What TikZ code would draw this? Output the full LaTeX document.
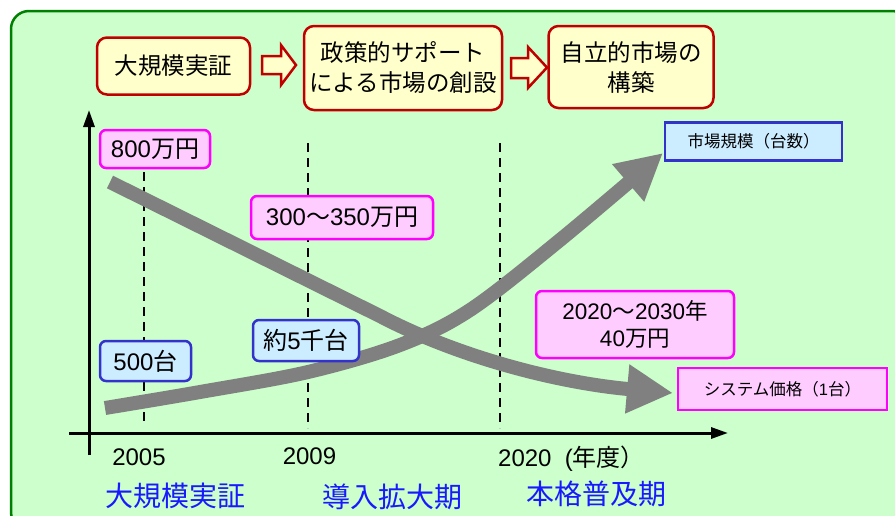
\documentclass[tikz,border=0pt]{standalone}
\usepackage{fontspec}
\setmainfont{Noto Sans CJK JP}
\newfontfamily\lat{Liberation Sans}
\usetikzlibrary{arrows.meta,calc}
\definecolor{panelfill}{HTML}{CCFFCC}
\definecolor{panelline}{HTML}{008000}
\definecolor{topfill}{HTML}{FFFFCC}
\definecolor{topline}{HTML}{C00000}
\definecolor{pinkfill}{HTML}{FFCCFF}
\definecolor{pinkline}{HTML}{FF00FF}
\definecolor{bluefill}{HTML}{CCECFF}
\definecolor{blueline}{HTML}{3333CC}
\definecolor{phaseblue}{HTML}{1919FF}
\definecolor{curvegrey}{HTML}{808080}
\tikzset{
  topbox/.style={draw=topline, fill=topfill, line width=2.5pt, rounded corners=10pt, align=center, font=\fontsize{23.5}{30}\selectfont, inner sep=0pt},
  pinkbox/.style={draw=pinkline, fill=pinkfill, line width=2.5pt, rounded corners=6pt, align=center, font=\fontsize{24}{30}\selectfont, inner sep=0pt},
  bluebox/.style={draw=blueline, fill=bluefill, line width=2.5pt, rounded corners=6pt, align=center, font=\fontsize{24}{30}\selectfont, inner sep=0pt},
  legpink/.style={draw=pinkline, fill=pinkfill, line width=2.5pt, font=\fontsize{16.5}{20}\selectfont, inner sep=0pt},
  legblue/.style={draw=blueline, fill=bluefill, line width=2.5pt, font=\fontsize{16.5}{20}\selectfont, inner sep=0pt},
  blockarrow/.style={draw=topline, fill=topfill, line width=2.5pt, line join=miter},
  axis/.style={line width=3pt, -{Triangle[length=17pt,width=11pt]}},
  guide/.style={line width=2.2pt, dash pattern=on 9pt off 6pt},
  trend/.style={draw=curvegrey, line width=14pt, line cap=butt, -{Triangle[length=46pt,width=46pt]}},
  year/.style={font=\lat\fontsize{24}{26}\selectfont, inner sep=0pt},
  phase/.style={font=\fontsize{28}{30}\selectfont, text=phaseblue, inner sep=0pt}
}
\begin{document}
\begin{tikzpicture}[x=1pt,y=-1pt]
\useasboundingbox (0,0) rectangle (895,515);
\begin{scope}
\clip (0,0) rectangle (895,515);
\draw[draw=panelline, fill=panelfill, line width=2.5pt, rounded corners=18pt] (11,11) rectangle (910,530);
\end{scope}

% top boxes
\node[topbox, minimum width=153pt, minimum height=57pt] (b1) at (173.5,66) {大規模実証};
\node[topbox, minimum width=198pt, minimum height=84pt] (b2) at (403,68) {政策的サポート\\による市場の創設};
\node[topbox, minimum width=165pt, minimum height=82pt] (b3) at (631,67) {自立的市場の\\構築};

% block arrows
\draw[blockarrow] (262,56) -- (281,56) -- (281,45) -- (296,65) -- (281,85) -- (281,74) -- (262,74) -- cycle;
\draw[blockarrow] (511,58) -- (528,58) -- (528,47) -- (547,67.5) -- (528,88) -- (528,78) -- (511,78) -- cycle;

% guides
\coordinate (g1t) at (144,172); \coordinate (g1b) at (144,426);
\coordinate (g2t) at (308,143); \coordinate (g2b) at (308,428);
\coordinate (g3t) at (500,143); \coordinate (g3b) at (500,428);
\draw[guide] (g1t) -- (g1b);
\draw[guide] (g2t) -- (g2b);
\draw[guide] (g3t) -- (g3b);

% axes
\coordinate (yb) at (89,455); \coordinate (yt) at (89,110);
\coordinate (xl) at (69,433); \coordinate (xr) at (728,433);
\draw[axis] (yb) -- (yt);
\draw[axis] (xl) -- (xr);

% trend curves
\coordinate (ps) at (110,182);
\coordinate (pe) at (673,393);
\coordinate (ms) at (105,408);
\coordinate (me) at (663,153);
\draw[trend] (ps) -- (380,316) .. controls (460,358) and (560,383) .. (pe);
\draw[trend] plot[smooth, tension=0.55] coordinates {(105,408) (200,392) (308,372) (400,345) (470,310) (560,240) (663,153)};

% labels
\node[pinkbox, minimum width=110pt, minimum height=38pt] (l800) at (155,149) {{\lat 800}万円};
\node[pinkbox, minimum width=182pt, minimum height=43pt] (l300) at (342,217.5) {{\lat 300}〜{\lat 350}万円};
\node[pinkbox, minimum width=198pt, minimum height=67pt, font=\fontsize{22.5}{27}\selectfont] (l40) at (635,324.5) {{\lat 2020}〜{\lat 2030}年\\{\lat 40}万円};
\node[bluebox, minimum width=91pt, minimum height=40pt] (l500) at (145.5,361) {{\lat 500}台};
\node[bluebox, minimum width=106pt, minimum height=41pt] (l5k) at (306,340.5) {約{\lat 5}千台};
\node[legblue, minimum width=177pt, minimum height=38pt] (lm) at (753.5,141.5) {市場規模（台数）};
\node[legpink, minimum width=209pt, minimum height=42pt] (lp) at (782.5,389) {システム価格（{\lat 1}台）};

% years
\node[year] (y05) at (139,457) {2005};
\node[year] (y09) at (309.5,456) {2009};
\node[year, anchor=west] (y20) at (498,459) {2020\ \ (\fontspec{Noto Sans CJK JP}年度）};

% phases
\node[phase] (p1) at (175,496) {大規模実証};
\node[phase] (p2) at (392.5,497) {導入拡大期};
\node[phase] (p3) at (596.5,494) {本格普及期};
\end{tikzpicture}
\end{document}
